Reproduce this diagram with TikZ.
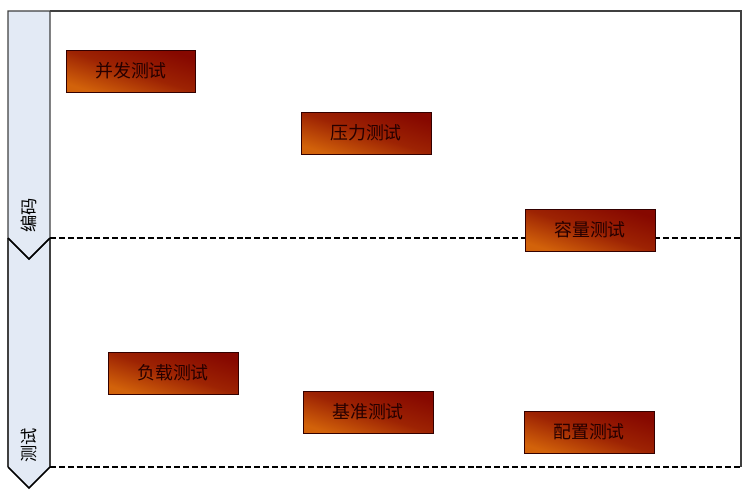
\documentclass[tikz,border=0pt]{standalone}
\usepackage{fontspec}
\newfontfamily\cjk{Noto Sans CJK SC}
\usepackage{xcolor}
\usepackage{tikz}
\usetikzlibrary{positioning}

\definecolor{laneblue}{HTML}{E3EAF5}
\definecolor{boxdark}{HTML}{860800}
\definecolor{boxlight}{HTML}{D2620A}

\begin{document}
\begin{tikzpicture}[
  x=0.0265cm, y=-0.0265cm,
  box/.style={draw=black!80!red, line width=0.6pt, minimum width=3.44cm, minimum height=1.11cm,
    shading=axis, top color=boxdark, bottom color=boxlight, middle color=boxdark!70!boxlight,
    shading angle=-18, font=\cjk\fontsize{13.5}{15}\selectfont, text=black!85!red},
  lane/.style={fill=laneblue, draw=black!75, line width=0.8pt},
  sep/.style={line width=1.6pt, dash pattern=on 4.5pt off 2.2pt},
  tag/.style={rotate=90, font=\cjk\fontsize{13}{15}\selectfont}
]
\useasboundingbox (0,0) rectangle (744,496);

% Frame
\draw[black!75, line width=0.8pt] (50,11) -- (741,11) -- (741,467);

% Lanes
\fill[laneblue] (8,238) -- (50,238) -- (50,467) -- (29,488) -- (8,467) -- cycle;
\draw[black!75, line width=0.8pt] (8,238) -- (8,467) (50,467) -- (50,238);
\draw[line width=1.3pt] (8,467) -- (29,488) -- (50,467);
\draw[lane] (8,11) -- (50,11) -- (50,238) -- (29,259) -- (8,238) -- cycle;
\draw[line width=1.3pt] (8,238) -- (29,259) -- (50,238);
\node[tag] (l1) at (29,215) {编码};
\node[tag] (l2) at (29,445) {测试};

% Separators
\coordinate (s1) at (50,238);
\coordinate (e1) at (741,238);
\coordinate (s2) at (50,467);
\coordinate (e2) at (741,467);
\draw[sep] (s1) -- (e1);
\draw[sep] (s2) -- (e2);

% Nodes
\node[box] (n1) at (131,71) {并发测试};
\node[box] (n2) at (366,133) {压力测试};
\node[box] (n3) at (590,230) {容量测试};
\node[box] (n4) at (173,373) {负载测试};
\node[box] (n5) at (368,412) {基准测试};
\node[box] (n6) at (589,432) {配置测试};
\end{tikzpicture}
\end{document}
